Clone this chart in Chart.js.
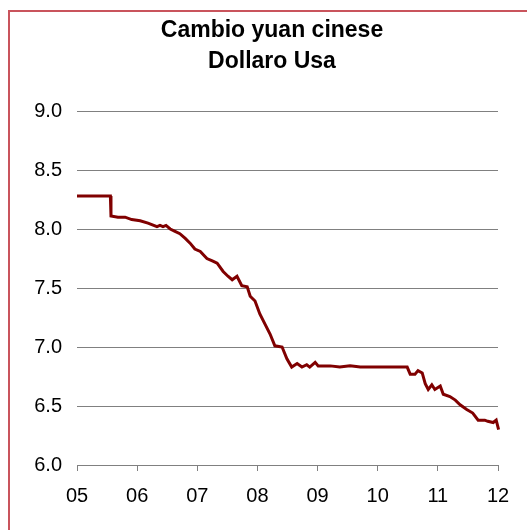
<!DOCTYPE html>
<html>
<head>
<meta charset="utf-8">
<script src="https://cdn.jsdelivr.net/npm/chart.js@4.4.1/dist/chart.umd.min.js"></script>
<style>
  body { margin: 0; background: #fff; }
  #frame {
    position: absolute; left: 8px; top: 10px; right: 0; bottom: 0;
    border-left: 2px solid #c9545c; border-top: 2px solid #c9545c;
  }
  #title {
    position: absolute; left: 72px; width: 400px; top: 14px;
    text-align: center; color: #000;
    font: bold 23px/31px Arial, "Liberation Sans", sans-serif;
  }
  #wrap { position: absolute; left: 0; top: 0; width: 527px; height: 530px; }
</style>
</head>
<body>
<div id="frame"></div>
<div id="wrap"><canvas id="fxChart"></canvas></div>
<div id="title"></div>
<script>
// yuan per dollar (decimal years)
const dates = [
  2005.00, 2005.38, 2005.555, 2005.565, 2005.68, 2005.80, 2005.91, 2006.05, 2006.18, 2006.33,
  2006.38, 2006.43, 2006.48, 2006.55, 2006.63, 2006.71, 2006.80, 2006.88, 2006.96, 2007.05,
  2007.16, 2007.25, 2007.33, 2007.43, 2007.51, 2007.58, 2007.66, 2007.74, 2007.83, 2007.88,
  2007.96, 2008.04, 2008.13, 2008.21, 2008.29, 2008.41, 2008.49, 2008.57, 2008.66, 2008.74,
  2008.82, 2008.87, 2008.96, 2009.01, 2009.21, 2009.37, 2009.54, 2009.71, 2010.04, 2010.49,
  2010.54, 2010.62, 2010.67, 2010.74, 2010.79, 2010.84, 2010.90, 2010.95, 2011.04, 2011.09,
  2011.20, 2011.29, 2011.37, 2011.48, 2011.58, 2011.67, 2011.78, 2011.83, 2011.92, 2011.97,
  2012.01
];
const rates = [
  8.28, 8.28, 8.28, 8.11, 8.10, 8.10, 8.08, 8.07, 8.05, 8.02,
  8.03, 8.02, 8.03, 8.00, 7.98, 7.96, 7.92, 7.88, 7.83, 7.81,
  7.75, 7.73, 7.71, 7.64, 7.60, 7.57, 7.60, 7.52, 7.51, 7.43,
  7.39, 7.28, 7.19, 7.11, 7.01, 7.00, 6.90, 6.83, 6.86, 6.83,
  6.85, 6.83, 6.87, 6.84, 6.84, 6.83, 6.84, 6.83, 6.83, 6.83,
  6.77, 6.77, 6.80, 6.78, 6.69, 6.64, 6.68, 6.64, 6.67, 6.60,
  6.58, 6.55, 6.51, 6.47, 6.44, 6.38, 6.38, 6.37, 6.36, 6.38,
  6.30
];
const yTicks = [6.0, 6.5, 7.0, 7.5, 8.0, 8.5, 9.0];
const titleLines = ['Cambio yuan cinese', 'Dollaro Usa'];

// title sits over the frame, a bit left of the plot centre like the original
document.getElementById('title').innerHTML = titleLines.join('<br>');

const points = dates.map((d, i) => ({ x: d, y: rates[i] }));
const fontFamily = 'Arial, "Liberation Sans", sans-serif';

const ctx = document.getElementById('fxChart').getContext('2d');
new Chart(ctx, {
  type: 'line',
  data: {
    datasets: [{
      label: 'CNY/USD',
      data: points,
      borderColor: '#800000',
      borderWidth: 3,
      pointRadius: 0,
      tension: 0,
      fill: false,
      clip: 4
    }]
  },
  options: {
    responsive: true,
    maintainAspectRatio: false,
    animation: false,
    layout: { padding: { left: 17, right: 29, top: 111, bottom: 9 } },
    plugins: {
      legend: { display: false },
      tooltip: { enabled: false }
    },
    scales: {
      x: {
        type: 'linear',
        min: 2005,
        max: 2012,
        grid: { drawOnChartArea: false, drawTicks: true, tickLength: 6, color: '#808080' },
        border: { display: true, color: '#808080', width: 1 },
        ticks: {
          stepSize: 1,
          padding: 13,
          color: '#000',
          maxRotation: 0,
          font: { family: fontFamily, size: 20 },
          callback: v => String(v % 100).padStart(2, '0')
        }
      },
      y: {
        min: 6,
        max: 9,
        afterFit: scale => { scale.width = 60; },
        afterBuildTicks: scale => { scale.ticks = yTicks.map(v => ({ value: v })); },
        grid: { drawTicks: false, color: '#808080', lineWidth: 1 },
        border: { display: false },
        ticks: {
          padding: 15,
          color: '#000',
          font: { family: fontFamily, size: 20 },
          callback: v => Number(v).toFixed(1)
        }
      }
    }
  }
});
</script>
</body>
</html>
